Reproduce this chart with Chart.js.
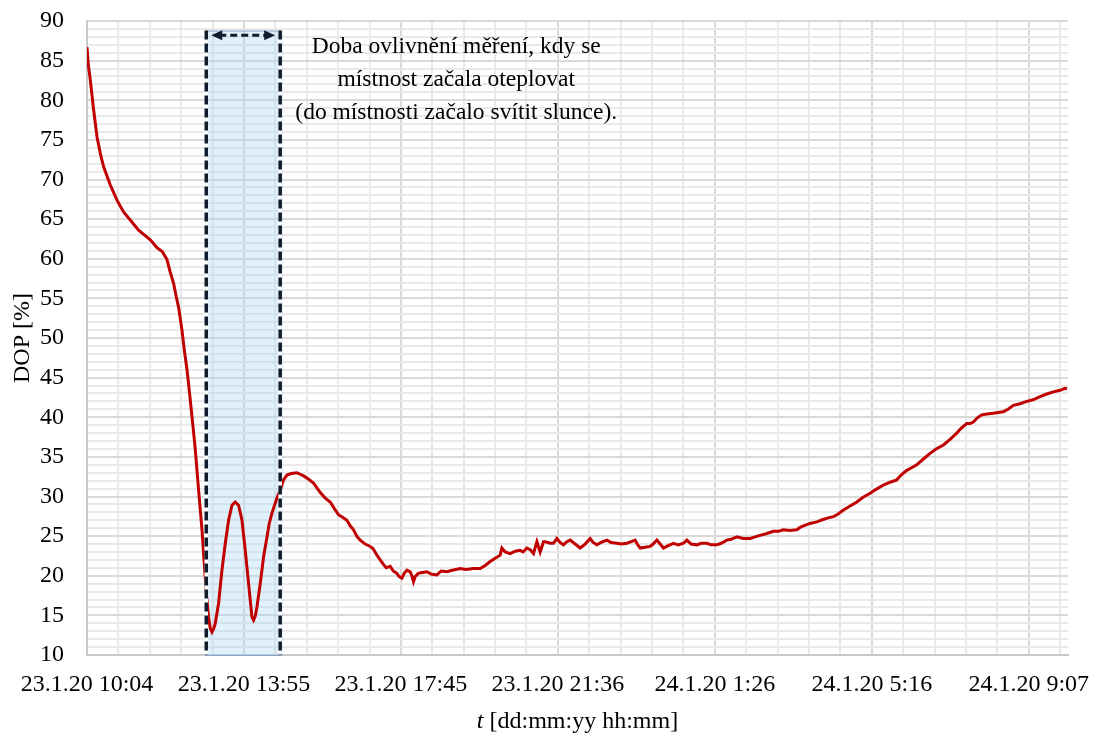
<!DOCTYPE html>
<html>
<head>
<meta charset="utf-8">
<script src="https://cdn.jsdelivr.net/npm/chart.js@4"></script>
<style>
  body { margin: 0; background: #fff; }
  canvas { display: block; }
</style>
</head>
<body>
<canvas id="chart" width="1100" height="736"></canvas>
<script>
// minutes since 23.1.20 10:04 (axis spans one day)
const times = [0,1.9,4.8,9.7,14.7,19.5,24.4,34.2,44.0,53.7,
  63.5,75.7,92.9,102.7,110.5,117.4,122.2,127.1,131.0,134.4,
  139.4,142.8,146.8,150.2,154.1,159.0,163.8,168.8,172.1,175.1,
  178.4,180.9,183.4,185.8,188.3,193.1,198.1,203.0,207.8,212.8,
  217.6,222.5,227.5,232.3,237.2,242.1,244.5,247.0,249.5,254.3,
  259.2,264.2,267.5,271.5,278.8,283.7,288.5,293.5,299.8,308.2,
  317.9,324.8,332.5,336.5,342.4,349.7,357.0,362.9,369.2,374.6,
  381.5,386.4,391.2,396.7,401.1,408.4,415.7,420.1,425.6,430.4,
  435.3,439.2,445.1,449.5,454.9,458.3,462.3,465.6,469.6,474.4,
  476.9,479.3,481.8,486.2,492.1,499.0,505.3,513.6,519.9,528.3,
  536.1,547.8,556.6,567.3,577.2,584.5,591.8,599.2,606.5,609.0,
  613.8,621.2,628.5,635.8,640.2,645.7,650.5,655.4,660.4,665.2,
  670.1,672.5,679.9,684.7,689.7,694.5,699.4,704.4,709.2,716.6,
  723.9,731.2,738.6,743.0,748.4,754.7,763.1,769.4,777.8,784.1,
  792.5,798.8,804.6,807.6,812.0,819.3,826.6,831.0,836.5,841.3,
  846.2,853.1,860.9,867.8,875.5,880.5,886.8,895.2,901.5,909.9,
  916.2,924.5,930.9,939.2,945.5,953.9,963.1,973.4,980.7,988.0,
  996.8,1007.6,1014.5,1022.3,1032.1,1041.9,1046.8,1051.6,1061.4,1071.3,
  1080.5,1087.9,1095.6,1102.6,1110.4,1120.2,1130.0,1139.3,1149.5,1158.3,
  1169.0,1178.9,1188.7,1195.0,1203.4,1209.7,1218.0,1227.3,1237.5,1246.3,
  1257.1,1266.9,1276.7,1283.0,1291.4,1296.2,1301.1,1306.5,1313.4,1321.2,
  1330.4,1337.4,1345.1,1352.0,1359.8,1369.6,1379.5,1388.7,1399.0,1407.8,
  1418.5,1428.4,1435.7,1438.6];

// DOP [%]
const dop = [86.7,84.5,82.6,78.8,75.4,73.3,71.6,69.3,67.4,65.9,
  64.9,63.6,62.4,61.4,60.9,59.9,58.3,56.9,55.2,53.9,
  51.0,48.5,46.0,43.3,40.1,35.9,30.8,25.8,21.6,17.8,
  14.8,13.4,12.9,13.3,14.0,16.5,20.7,24.1,27.0,28.9,
  29.3,28.9,27.0,23.2,19.0,14.8,14.4,14.9,16.1,19.0,
  22.4,24.9,26.6,27.9,29.8,30.8,32.1,32.7,32.9,33.0,
  32.6,32.2,31.7,31.2,30.5,29.8,29.3,28.5,27.7,27.4,
  27.0,26.3,25.8,24.9,24.5,24.0,23.7,23.4,22.6,22.0,
  21.4,21.0,21.2,20.6,20.3,19.9,19.7,20.3,20.7,20.5,
  20.0,19.25,19.9,20.3,20.4,20.5,20.2,20.1,20.6,20.5,
  20.7,20.9,20.8,20.9,20.9,21.3,21.8,22.2,22.6,23.5,
  23.0,22.8,23.1,23.2,23.0,23.5,23.3,22.8,24.3,23.0,
  24.3,24.3,24.1,24.1,24.7,24.2,23.9,24.3,24.5,24.0,
  23.5,24.0,24.7,24.2,23.9,24.2,24.5,24.2,24.1,24.0,
  24.1,24.3,24.5,24.0,23.5,23.6,23.7,24.0,24.5,24.0,
  23.5,23.8,24.1,23.9,24.1,24.5,24.0,23.9,24.1,24.1,
  23.9,23.9,24.1,24.5,24.6,24.9,24.7,24.7,24.9,25.1,
  25.3,25.6,25.6,25.8,25.7,25.8,26.1,26.3,26.6,26.8,
  27.1,27.3,27.45,27.8,28.3,28.8,29.3,29.9,30.4,30.9,
  31.45,31.8,32.1,32.7,33.3,33.6,34.0,34.7,35.45,36.0,
  36.5,37.2,38.0,38.6,39.2,39.2,39.4,39.9,40.3,40.4,
  40.5,40.6,40.7,41.0,41.5,41.7,42.0,42.2,42.6,42.9,
  43.2,43.4,43.65,43.6];

const xTickLabels = ['23.1.20 10:04', '23.1.20 13:55', '23.1.20 17:45', '23.1.20 21:36',
  '24.1.20 1:26', '24.1.20 5:16', '24.1.20 9:07'];
const yTickLabels = [10, 15, 20, 25, 30, 35, 40, 45, 50, 55, 60, 65, 70, 75, 80, 85, 90];

// highlighted period (minutes, %)
const shadeStart = 173.6;
const shadeEnd = 285.0;
const shadeTop = 88.8;
const arrowLevel = 88.2;
const noteX = 542;
const noteY = 86.7;
const noteLines = ['Doba ovlivnění měření, kdy se', 'místnost začala oteplovat', '(do místnosti začalo svítit slunce).'];

const FONT = "'Liberation Serif', 'DejaVu Serif', serif";
const MINOR_X = 46.08; // 0.032 day
const xGrid = [];
for (let i = 0; i < 32; i++) xGrid.push(i * MINOR_X);
const yGrid = [];
for (let v = 10; v <= 90; v++) yGrid.push(v);

const points = times.map((t, i) => ({ x: t, y: dop[i] }));

const shadePlugin = {
  id: 'shade',
  beforeDatasetsDraw(chart) {
    const { ctx, chartArea, scales } = chart;
    const x1 = scales.x.getPixelForValue(shadeStart);
    const x2 = scales.x.getPixelForValue(shadeEnd);
    const yt = scales.y.getPixelForValue(shadeTop);
    ctx.save();
    ctx.fillStyle = 'rgba(170, 215, 245, 0.35)';
    ctx.fillRect(x1, yt, x2 - x1, chartArea.bottom - yt);
    ctx.strokeStyle = '#8aa6c6';
    ctx.lineWidth = 1;
    ctx.strokeRect(x1 + 0.5, yt + 0.5, x2 - x1, chartArea.bottom - yt);
    ctx.restore();
  },
  afterDatasetsDraw(chart) {
    const { ctx, chartArea, scales } = chart;
    const x1 = scales.x.getPixelForValue(shadeStart);
    const x2 = scales.x.getPixelForValue(shadeEnd);
    const yt = scales.y.getPixelForValue(shadeTop);
    const ya = scales.y.getPixelForValue(arrowLevel);
    ctx.save();
    [x1 + 1, x2 - 1].forEach(x => {
      ctx.beginPath();
      ctx.moveTo(x, yt);
      ctx.lineTo(x, chartArea.bottom);
      ctx.setLineDash([]);
      ctx.strokeStyle = '#ffffff';
      ctx.lineWidth = 3.5;
      ctx.stroke();
      ctx.setLineDash([9, 4]);
      ctx.strokeStyle = '#0f1c2b';
      ctx.lineWidth = 3.5;
      ctx.stroke();
    });
    // double arrow
    const a1 = x1 + 6, a2 = x2 - 6;
    ctx.setLineDash([7, 4]);
    ctx.strokeStyle = '#0f1c2b';
    ctx.lineWidth = 3;
    ctx.beginPath();
    ctx.moveTo(a1 + 8, ya);
    ctx.lineTo(a2 - 8, ya);
    ctx.stroke();
    ctx.setLineDash([]);
    ctx.fillStyle = '#0f1c2b';
    ctx.beginPath();
    ctx.moveTo(a1, ya); ctx.lineTo(a1 + 11, ya - 5); ctx.lineTo(a1 + 11, ya + 5); ctx.closePath();
    ctx.fill();
    ctx.beginPath();
    ctx.moveTo(a2, ya); ctx.lineTo(a2 - 11, ya - 5); ctx.lineTo(a2 - 11, ya + 5); ctx.closePath();
    ctx.fill();
    ctx.restore();
  },
  afterDraw(chart) {
    const { ctx, chartArea, scales } = chart;
    ctx.save();
    ctx.fillStyle = '#000';
    ctx.font = '23.5px ' + FONT;
    ctx.textAlign = 'center';
    ctx.textBaseline = 'middle';
    const nx = scales.x.getPixelForValue(noteX);
    const ny = scales.y.getPixelForValue(noteY);
    noteLines.forEach((s, i) => ctx.fillText(s, nx, ny + i * 33));
    // x axis title with italic t
    const italic = 'italic 24px ' + FONT;
    const roman = '24px ' + FONT;
    const rest = ' [dd:mm:yy hh:mm]';
    ctx.font = italic;
    const wt = ctx.measureText('t').width;
    ctx.font = roman;
    const wr = ctx.measureText(rest).width;
    const cx = (chartArea.left + chartArea.right) / 2;
    const start = cx - (wt + wr) / 2;
    ctx.textAlign = 'left';
    ctx.font = italic;
    ctx.fillText('t', start, 722);
    ctx.font = roman;
    ctx.fillText(rest, start + wt, 722);
    ctx.restore();
  }
};

new Chart(document.getElementById('chart'), {
  type: 'line',
  data: {
    datasets: [{
      data: points,
      borderColor: '#c00000',
      borderWidth: 3,
      pointRadius: 0,
      tension: 0,
      fill: false
    }]
  },
  options: {
    responsive: false,
    animation: false,
    layout: { padding: { top: 21, right: 32, left: 0, bottom: 0 } },
    plugins: { legend: { display: false }, tooltip: { enabled: false } },
    scales: {
      x: {
        type: 'linear',
        min: 0,
        max: 1440,
        afterBuildTicks: s => { s.ticks = xGrid.map(v => ({ value: v })); },
        afterFit: s => { s.height = 81; },
        grid: {
          drawTicks: false,
          color: c => (c.index % 5 === 0 ? '#d9d9d9' : '#e9e9e9'),
          lineWidth: 2
        },
        border: { color: '#c8c8c8', width: 2 },
        ticks: {
          autoSkip: false,
          maxRotation: 0,
          padding: 15,
          color: '#000',
          font: { family: FONT, size: 24 },
          callback: (v, i) => (i % 5 === 0 ? xTickLabels[i / 5] : '')
        }
      },
      y: {
        min: 10,
        max: 90,
        afterBuildTicks: s => { s.ticks = yGrid.map(v => ({ value: v })); },
        afterFit: s => { s.width = 87; s.paddingTop = 0; s.paddingBottom = 0; },
        grid: {
          drawTicks: false,
          color: c => (c.tick.value % 5 === 0 ? '#d9d9d9' : '#e9e9e9'),
          lineWidth: 2
        },
        border: { color: '#c8c8c8', width: 2 },
        title: {
          display: true,
          text: 'DOP [%]',
          color: '#000',
          font: { family: FONT, size: 24 },
          padding: { top: 8, bottom: 0 }
        },
        ticks: {
          autoSkip: false,
          padding: 23,
          color: '#000',
          font: { family: FONT, size: 24 },
          callback: v => (yTickLabels.includes(v) ? String(v) : '')
        }
      }
    }
  },
  plugins: [shadePlugin]
});
</script>
</body>
</html>
